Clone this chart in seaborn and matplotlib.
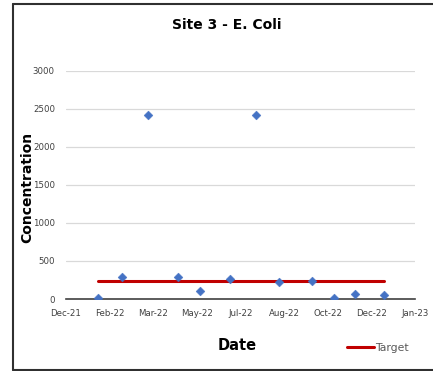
import pandas as pd
import numpy as np
import matplotlib
matplotlib.use("Agg")
import matplotlib.pyplot as plt
import matplotlib.dates as mdates
from matplotlib.lines import Line2D
import seaborn as sns

# sample dates and E. coli readings
sample_dates = ["2022-01-26", "2022-02-22", "2022-03-24", "2022-04-27",
                "2022-05-23", "2022-06-26", "2022-07-26", "2022-08-21",
                "2022-09-28", "2022-10-23", "2022-11-16", "2022-12-20"]
concentration = [10, 290, 2420, 284, 101, 266, 2420, 223, 232, 17, 70, 52]
target = [235] * len(sample_dates)

df = pd.DataFrame({
    "Date": pd.to_datetime(sample_dates),
    "Concentration": concentration,
    "Target": target,
})

sns.set_style("white")
fig = plt.figure(figsize=(4.33, 3.71), dpi=100)
ax = fig.add_axes([0.1524, 0.194, 0.806, 0.6154])

sns.lineplot(data=df, x="Date", y="Target", color="#C00000", lw=2.2, ax=ax, zorder=2)
sns.scatterplot(data=df, x="Date", y="Concentration", marker="D", s=20,
                color="#4472C4", edgecolor="#4472C4", ax=ax, zorder=3)

# axis scales like the Excel chart (serial 44550..44950, step 50 days)
x0 = pd.Timestamp("2021-12-20")
ticks = [x0 + pd.Timedelta(days=50 * i) for i in range(9)]
ax.set_xlim(ticks[0], ticks[-1])
ax.set_xticks(ticks)
ax.xaxis.set_major_formatter(mdates.DateFormatter("%b-%y"))
ax.set_ylim(0, 3000)
ax.set_yticks(range(0, 3001, 500))

ax.grid(axis="y", color="#d9d9d9", lw=0.9)
ax.set_axisbelow(True)
for s in ["top", "right", "left"]:
    ax.spines[s].set_visible(False)
ax.spines["bottom"].set_color("#404040")
ax.spines["bottom"].set_linewidth(1.2)
ax.tick_params(axis="x", direction="out", length=4, width=1, color="#404040",
               labelsize=6.2, labelcolor="#404040", pad=3)
ax.tick_params(axis="y", length=0, labelsize=6.2, labelcolor="#404040", pad=8)

ax.set_xlabel("")
ax.set_ylabel("")
fig.text(0.063, 0.496, "Concentration", rotation=90, ha="center", va="center",
         fontsize=10, fontweight="bold", color="black")
fig.text(0.547, 0.07, "Date", ha="center", va="center", fontsize=10.5,
         fontweight="bold", color="black")
fig.text(0.524, 0.933, "Site 3 - E. Coli", ha="center", va="center",
         fontsize=10, fontweight="bold", color="black")

handle = Line2D([], [], color="#C00000", lw=2.2)
fig.legend([handle], ["Target"], loc="center left", bbox_to_anchor=(0.778, 0.062),
           frameon=False, fontsize=7.8, handlelength=2.5, handletextpad=0.1,
           labelcolor="#595959")

# chart-area border: left, top and bottom edges only (right edge is cropped)
bx, by0, by1 = 0.029, 0.004, 0.99
for xs, ys in [([bx, bx], [by0, by1]), ([bx, 1.0], [by1, by1]), ([bx, 1.0], [by0, by0])]:
    fig.add_artist(Line2D(xs, ys, transform=fig.transFigure, color="#303030", lw=1.5))

fig.savefig("out.png", dpi=100)
